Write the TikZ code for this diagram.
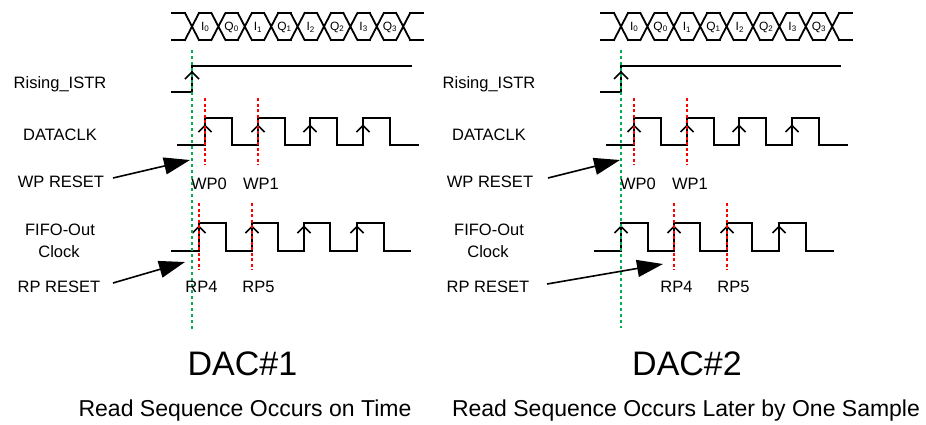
\documentclass[tikz,border=0pt]{standalone}
\usepackage{fontspec}
\setmainfont{Liberation Sans}
\usetikzlibrary{arrows.meta}
\definecolor{gdash}{RGB}{0,176,80}
\definecolor{rdash}{RGB}{255,0,0}
\tikzset{
  sig/.style={line width=1.8pt, line join=miter, line cap=rect},
  chev/.style={line width=1.5pt},
  gline/.style={draw=gdash, line width=2pt, dash pattern=on 3pt off 3pt},
  rline/.style={draw=rdash, line width=1.8pt, dash pattern=on 3pt off 2.5pt},
  lbl/.style={font=\fontsize{16.5}{19}\selectfont, anchor=base, inner sep=0pt},
  cell/.style={font=\fontsize{12}{13}\selectfont, inner sep=0pt},
  bigtxt/.style={font=\fontsize{34}{38}\selectfont, anchor=base, inner sep=0pt},
  captxt/.style={font=\fontsize{23}{26}\selectfont, anchor=base, inner sep=0pt},
  bigarrow/.style={line width=1.6pt, -{Triangle[length=26pt,width=17pt]}}
}
\begin{document}
\begin{tikzpicture}[x=1pt,y=-1pt]
\fill[white] (0,0) rectangle (926,424);
\useasboundingbox (0,0) rectangle (926,424);
\foreach \o/\p in {0/L,429/R}{
  \begin{scope}[xshift=\o pt]
  % data bus
  \foreach \k in {0,...,8}{
    \pgfmathsetmacro\c{192+26.4*\k}
    \draw[sig] ({\c-7},13) -- ({\c+7},40) ({\c-7},40) -- ({\c+7},13);
  }
  \foreach \k in {0,...,7}{
    \pgfmathsetmacro\a{192+26.4*\k+7}
    \pgfmathsetmacro\b{192+26.4*(\k+1)-7}
    \draw[sig] (\a,13) -- (\b,13) (\a,40) -- (\b,40);
  }
  \draw[sig] (172,13) -- (185,13) (172,40) -- (185,40)
             (410.2,13) -- (423,13) (410.2,40) -- (423,40);
  \foreach \k/\t/\s in {0/I/0,1/Q/0,2/I/1,3/Q/1,4/I/2,5/Q/2,6/I/3,7/Q/3}
    \node[cell] (\p-d\k) at ({205.2+26.4*\k},27) {\t\textsubscript{\s}};
  % Rising_ISTR
  \draw[sig] (172,92) -- (192,92) -- (192,66) -- (411,66);
  \draw[chev] (185,79) -- (192,72) -- (199,79);
  % DATACLK
  \draw[sig] (178,145) -| (205,118) -| (232,145) -| (258,118) -| (285,145)
             -| (310,118) -| (337,145) -| (363,118) -| (390,145) -- (418,145);
  \foreach \x in {205,258,310,363}
    \draw[chev] ({\x-6.5},132) -- (\x,125.5) -- ({\x+6.5},132);
  % labels
  \node[lbl] (\p-ristr) at (60,88) {Rising\_ISTR};
  \node[lbl] (\p-dclk) at (60,140) {DATACLK};
  \node[lbl] (\p-wpr) at (61,187) {WP RESET};
  \node[lbl] (\p-fifo) at (60,235) {FIFO-Out};
  \node[lbl] (\p-clk) at (59,257) {Clock};
  \node[lbl] (\p-rpr) at (59,292) {RP RESET};
  \node[lbl] (\p-wp0) at (209,189) {WP0};
  \node[lbl] (\p-wp1) at (261,189) {WP1};
  \end{scope}
}
% FIFO-Out clock, DAC#1
\draw[sig] (172,251) -| (199,223) -| (226,251) -| (252,223) -| (278,251)
           -| (304,223) -| (330,251) -| (357,223) -| (384,251) -- (410,251);
\foreach \x in {199,252,304,357}
  \draw[chev] ({\x-6.5},233) -- (\x,226.5) -- ({\x+6.5},233);
% FIFO-Out clock, DAC#2
\draw[sig] (595,251) -| (621,223) -| (648,251) -| (674,223) -| (700,251)
           -| (727,223) -| (752,251) -| (779,223) -| (806,251) -- (833,251);
\foreach \x in {621,674,727,779}
  \draw[chev] ({\x-6.5},233) -- (\x,226.5) -- ({\x+6.5},233);
% red dashed markers
\foreach \x in {205,258,634,687} \draw[rline] (\x,98) -- (\x,165);
\foreach \x in {199,252,674,727} \draw[rline] (\x,203) -- (\x,270);
% green dashed markers
\draw[gline] (192,50) -- (192,330);
\draw[gline] (621,50) -- (621,328);
% RP labels
\node[lbl] (L-rp4) at (201.5,292) {RP4};
\node[lbl] (L-rp5) at (258.5,292) {RP5};
\node[lbl] (R-rp4) at (676.5,292) {RP4};
\node[lbl] (R-rp5) at (733.5,292) {RP5};
% arrows
\coordinate (L-wps) at (113,178); \coordinate (L-wpt) at (190,160);
\coordinate (L-rps) at (113,283); \coordinate (L-rpt) at (185,262);
\coordinate (R-wps) at (548,178); \coordinate (R-wpt) at (620,160);
\coordinate (R-rps) at (547,284); \coordinate (R-rpt) at (663,264);
\draw[bigarrow] (L-wps) -- (L-wpt);
\draw[bigarrow] (L-rps) -- (L-rpt);
\draw[bigarrow] (R-wps) -- (R-wpt);
\draw[bigarrow] (R-rps) -- (R-rpt);
% titles
\node[bigtxt] (dac1) at (242.5,375) {DAC\#1};
\node[bigtxt] (dac2) at (687,375) {DAC\#2};
\node[captxt] (cap1) at (245,416) {Read Sequence Occurs on Time};
\node[captxt] (cap2) at (686,416) {Read Sequence Occurs Later by One Sample};
\end{tikzpicture}
\end{document}
